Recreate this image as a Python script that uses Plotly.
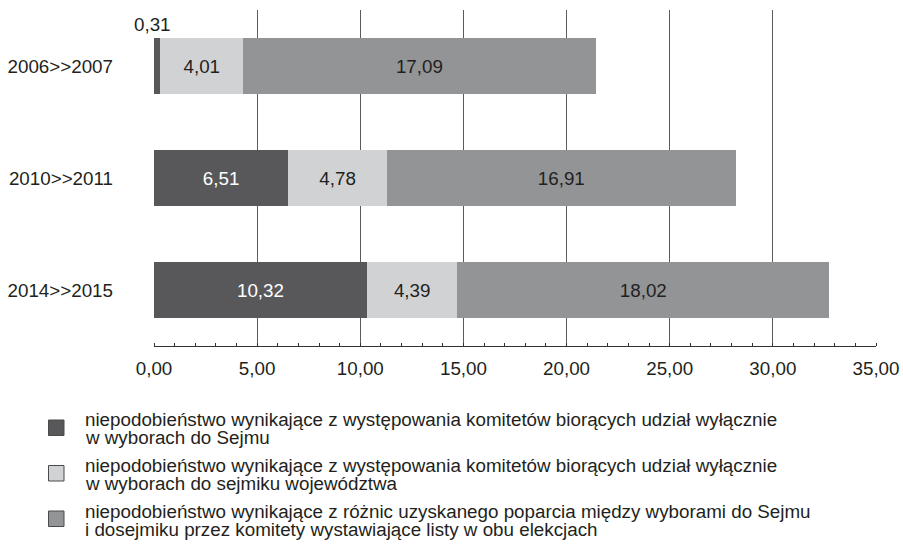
import plotly.graph_objects as go

categories = ["2006>>2007", "2010>>2011", "2014>>2015"]
sejm_only = [0.31, 6.51, 10.32]
sejmik_only = [4.01, 4.78, 4.39]
support_diff = [17.09, 16.91, 18.02]
legend_lines = [
    ["niepodobieństwo wynikające z występowania komitetów biorących udział wyłącznie",
     "w wyborach do Sejmu"],
    ["niepodobieństwo wynikające z występowania komitetów biorących udział wyłącznie",
     "w wyborach do sejmiku województwa"],
    ["niepodobieństwo wynikające z różnic uzyskanego poparcia między wyborami do Sejmu",
     "i dosejmiku przez komitety wystawiające listy w obu elekcjach"],
]
x_ticks = [0, 5, 10, 15, 20, 25, 30, 35]

colors = ["#58585a", "#d1d2d4", "#939496"]
text_colors = ["#ffffff", "#231f20", "#231f20"]
FONT = "Liberation Sans, Arial, sans-serif"
FS = 18.8

W, H = 903, 554
ML, MR, MT, MB = 154, 27, 10, 208
PW, PH = W - ML - MR, H - MT - MB

def px_x(p):
    return (p - ML) / PW

def px_y(p):
    return (H - MB - p) / PH

def fmt(v):
    return f"{v:.2f}".replace(".", ",")

fig = go.Figure()
annotations = []
for vals, lines, col, tcol in zip([sejm_only, sejmik_only, support_diff], legend_lines, colors, text_colors):
    texts = [fmt(v) if v >= 1 else "" for v in vals]
    fig.add_trace(go.Bar(
        y=categories, x=vals, orientation="h", name=" ".join(lines),
        marker=dict(color=col, line=dict(width=0)),
        text=texts, textposition="inside", insidetextanchor="middle",
        textfont=dict(family=FONT, size=FS, color=tcol),
        showlegend=False, cliponaxis=False, hoverinfo="skip",
    ))
    for c, v in zip(categories, vals):
        if v < 1:
            annotations.append(dict(x=v / 2, y=c, xref="x", yref="y", text=fmt(v),
                                    showarrow=False, yshift=42, xshift=-5,
                                    font=dict(family=FONT, size=FS, color="#231f20")))

# manual legend (tight line spacing as in the reference)
shapes = []
for k, (lines, col) in enumerate(zip(legend_lines, colors)):
    top = 420 + 45.5 * k
    shapes.append(dict(type="rect", xref="paper", yref="paper",
                       x0=px_x(48.5), x1=px_x(64), y0=px_y(top + 15.5), y1=px_y(top),
                       fillcolor=col, line=dict(color="#4a4a4c", width=1)))
    for j, line in enumerate(lines):
        annotations.append(dict(x=px_x(83), y=px_y(419.5 + 46 * k + 18.3 * j), xref="paper", yref="paper",
                                xanchor="left", yanchor="middle", text=line, showarrow=False,
                                font=dict(family=FONT, size=FS, color="#231f20")))

fig.update_layout(
    width=W, height=H,
    barmode="stack", bargap=0.5,
    plot_bgcolor="white", paper_bgcolor="white",
    margin=dict(l=ML, r=MR, t=MT, b=MB, autoexpand=False),
    font=dict(family=FONT, size=FS, color="#231f20"),
    separators=", ",
    annotations=annotations,
    shapes=shapes,
    showlegend=False,
    xaxis=dict(
        range=[0, 35], tickvals=x_ticks, ticktext=[fmt(t) for t in x_ticks],
        showgrid=True, gridcolor="#5a5a5a", gridwidth=1,
        showline=True, linecolor="#333333", linewidth=1,
        zeroline=False, ticks="", ticklabelstandoff=5, automargin=False,
        minor=dict(dtick=1, ticks="inside", ticklen=3, tickcolor="#333333", showgrid=False),
    ),
    yaxis=dict(
        autorange="reversed", showgrid=False, zeroline=False, showline=False,
        ticks="", ticklabelstandoff=40, automargin=False,
    ),
)

fig.write_html(
    "out.html",
    config={"displayModeBar": False},
    post_script="document.body.style.margin='0';document.body.style.overflow='hidden';",
)
